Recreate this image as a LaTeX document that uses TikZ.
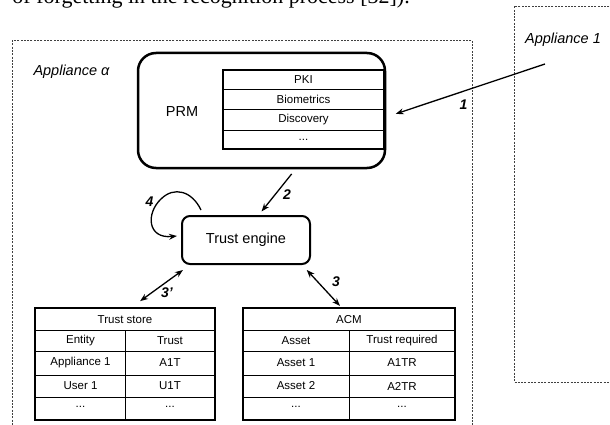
\documentclass[tikz,border=0pt]{standalone}
\usepackage{fontspec}
\setmainfont{Liberation Sans}
\newfontfamily\bodyserif{Liberation Serif}
\usetikzlibrary{arrows.meta}

\begin{document}
\begin{tikzpicture}[x=1pt,y=-1pt,
  frame/.style={draw=black!75,line width=0.9pt,dash pattern=on 2pt off 1.3pt},
  big/.style={font=\fontsize{14.5}{17}\selectfont},
  small/.style={font=\fontsize{11.5}{13}\selectfont},
  num/.style={font=\fontsize{14}{16}\selectfont\bfseries\itshape},
  arr/.style={line width=1.3pt,-{Stealth[length=8pt,width=6pt]}},
  darr/.style={line width=1.3pt,{Stealth[length=8pt,width=6pt]}-{Stealth[length=8pt,width=6pt]}},
  cell/.style={line width=0.9pt},
  tablebox/.style={draw,line width=2pt,inner sep=0pt,minimum height=112pt}]
\useasboundingbox (0,0) rectangle (610,425);
%%Text above
\node[font=\bodyserif,scale=2.2,transform shape,anchor=base west,inner sep=0pt] (cut) at (12,4) {of forgetting in the recognition process [32]).};

%%Appliances
\draw[frame] (472,432) -- (472,40) -- (12.7,40) -- (12.7,432);
\draw[frame] (616,6) -- (514,6) -- (514,382) -- (616,382);
\node[font=\fontsize{14.5}{17}\selectfont\itshape] (alpha) at (71.5,72) {Appliance α};
\node[font=\fontsize{14.5}{17}\selectfont\itshape] (app1) at (563,40) {Appliance 1};

%%PRM
\node[draw,line width=2.5pt,rounded corners=18pt,minimum width=247pt,minimum height=115pt,inner sep=0pt] (prm) at (261.5,110.5) {};
\node[big] (prmlabel) at (182,112) {PRM};
\node[draw,line width=1.8pt,minimum width=161pt,minimum height=79pt,inner sep=0pt] (list) at (303.5,109.5) {};
\foreach \y in {89,109,130}
  \draw[cell] (list.west |- 0,\y) -- (list.east |- 0,\y);
\node[small] (pki) at (303.5,80) {PKI};
\node[small] (bio) at (303.5,99.5) {Biometrics};
\node[small] (disc) at (303.5,119.5) {Discovery};
\node[small] (more) at (303.5,139.5) {...};

%%Trust engine
\node[draw,line width=2pt,rounded corners=8pt,minimum width=128pt,minimum height=48pt,big] (trust) at (246,240) {Trust engine};

%%Trust store
\node[tablebox,minimum width=180pt] (tstore) at (125,364) {};
\foreach \y in {330,351,375,397}
  \draw[cell] (tstore.west |- 0,\y) -- (tstore.east |- 0,\y);
\draw[cell] (125,330) -- (tstore.south);
\node[small] (tshead) at (125,320) {Trust store};
\node[small] (tsent) at (80.5,341) {Entity};
\node[small] (tstr) at (170,341) {Trust};
\node[small] (tsa) at (80.5,363) {Appliance 1};
\node[small] (tsat) at (170,363) {A1T};
\node[small] (tsu) at (80.5,386) {User 1};
\node[small] (tsut) at (170,386) {U1T};
\node[small] (tsd) at (80.5,407) {...};
\node[small] (tsdt) at (170,407) {...};

%%ACM
\node[tablebox,minimum width=212pt] (acm) at (349,364) {};
\foreach \y in {330,351,375,397}
  \draw[cell] (acm.west |- 0,\y) -- (acm.east |- 0,\y);
\draw[cell] (349,330) -- (acm.south);
\node[small] (acmhead) at (349,320) {ACM};
\node[small] (acmas) at (296,341) {Asset};
\node[small] (acmtr) at (402,341) {Trust required};
\node[small] (acma1) at (296,363) {Asset 1};
\node[small] (acma1t) at (402,363) {A1TR};
\node[small] (acma2) at (296,386) {Asset 2};
\node[small] (acma2t) at (402,386) {A2TR};
\node[small] (acmd) at (296,407) {...};
\node[small] (acmdt) at (402,407) {...};

%%Arrows
\coordinate (src1) at (545,64);
\draw[arr,shorten >=10pt] (src1) -- (prm.-3);
\draw[arr,shorten <=6pt,shorten >=4.5pt] (prm.-60) -- (trust.63);
\draw[darr,shorten <=8.5pt,shorten >=10pt] (trust.-156) -- (tstore.83);
\draw[darr,shorten <=6.8pt,shorten >=1.5pt] (trust.-24) -- (acm.98);
\draw[arr] ([shift={(20,-5)}]trust.north west) .. controls (192,191) and (174,186) .. (161,199)
  .. controls (146,213) and (147,239) .. ([shift={(-4,-4)}]trust.west);

%%Label
\node[num] (l1) at (463.5,105) {1};
\node[num] (l2) at (287,195) {2};
\node[num] (l3) at (336,282) {3};
\node[num] (l3b) at (167,293) {3'};
\node[num] (l4) at (149.5,202) {4};

\end{tikzpicture}
\end{document}
